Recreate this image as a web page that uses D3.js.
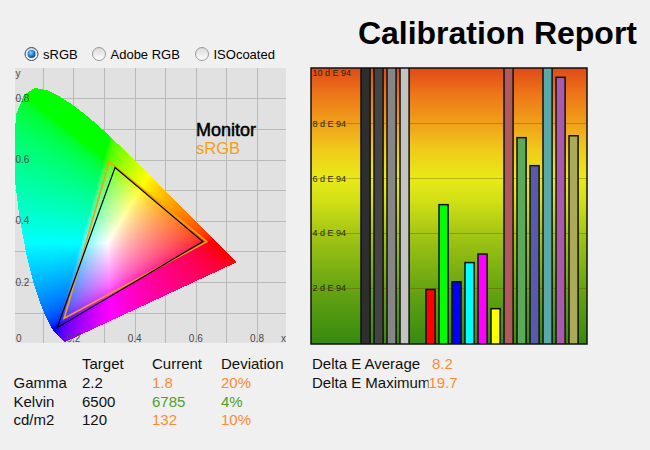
<!DOCTYPE html>
<html><head><meta charset="utf-8">
<script src="https://cdn.jsdelivr.net/npm/d3@7"></script>
<style>
html,body{margin:0;padding:0;background:#f0f0f0;}
svg{display:block;font-family:"Liberation Sans",Arial,sans-serif;}
</style></head><body>
<svg id="c" width="650" height="450"></svg>
<script>
// ---------- data ----------
const title = "Calibration Report";
const gamutOptions = ["sRGB", "Adobe RGB", "ISOcoated"];
const selectedOption = "sRGB";
// CIE 1931 spectral locus (x, y), 380..700 nm
const spectralLocus = [
 [0.1741,0.0050],[0.1740,0.0050],[0.1738,0.0049],[0.1736,0.0049],[0.1733,0.0048],
 [0.1730,0.0048],[0.1726,0.0048],[0.1721,0.0048],[0.1714,0.0051],[0.1703,0.0058],
 [0.1689,0.0069],[0.1669,0.0086],[0.1644,0.0109],[0.1611,0.0138],[0.1566,0.0177],
 [0.1510,0.0227],[0.1440,0.0297],[0.1355,0.0399],[0.1241,0.0578],[0.1096,0.0868],
 [0.0913,0.1327],[0.0687,0.2007],[0.0454,0.2950],[0.0235,0.4127],[0.0082,0.5384],
 [0.0039,0.6548],[0.0139,0.7502],[0.0389,0.8120],[0.0743,0.8338],[0.1142,0.8262],
 [0.1547,0.8059],[0.1929,0.7816],[0.2296,0.7543],[0.2658,0.7243],[0.3016,0.6923],
 [0.3373,0.6589],[0.3731,0.6245],[0.4087,0.5896],[0.4441,0.5547],[0.4788,0.5202],
 [0.5125,0.4866],[0.5448,0.4544],[0.5752,0.4242],[0.6029,0.3965],[0.6270,0.3725],
 [0.6482,0.3514],[0.6658,0.3340],[0.6801,0.3197],[0.6915,0.3083],[0.7006,0.2993],
 [0.7079,0.2920],[0.7140,0.2859],[0.7190,0.2809],[0.7230,0.2770],[0.7260,0.2740],
 [0.7300,0.2700],[0.7320,0.2680],[0.7334,0.2666],[0.7347,0.2653]
];
const targetGamut = [[0.317,0.593],[0.636,0.332],[0.170,0.082]];   // sRGB as drawn
const monitorGamut = [[0.336,0.574],[0.623,0.332],[0.147,0.051]];  // measured
const cieTicks = [0.2, 0.4, 0.6, 0.8];
const cieGrid = [0.1,0.2,0.3,0.4,0.5,0.6,0.7,0.8];
const gamutLabels = ["Monitor", "sRGB"];

const patchNames = ["Black","Dark gray","Gray","Light gray","(gap)",
  "Red","Green","Blue","Cyan","Magenta","Yellow",
  "Dark skin","Foliage","Blue flower","Bluish green","Purple","Yellow green"];
const deltaE = [15.2, 13.1, 11.4, 12.6, null, 1.95, 5.04, 2.23, 2.93, 3.24, 1.25,
  19.7, 7.48, 6.46, 11.4, 9.68, 7.55];
const patchColors = ["#2e2e2e","#444444","#868686","#c4c4c4",null,
  "#ff0000","#00ff00","#0000ff","#00ffff","#ff00ff","#ffff00",
  "#b05a5a","#5aaa5a","#5a5aaa","#5aaaaa","#aa5aaa","#aaaa5a"];
const deltaETicks = [2, 4, 6, 8, 10];

const tableHeaders = ["Target", "Current", "Deviation"];
const metricNames = ["Gamma", "Kelvin", "cd/m2"];
const targetValues = ["2.2", "6500", "120"];
const currentValues = ["1.8", "6785", "132"];
const deviationValues = ["20%", "4%", "10%"];
const metricOk = [false, true, false];
const summaryLabels = ["Delta E Average", "Delta E Maximum"];
const summaryValues = ["8.2", "19.7"];

// ---------- setup ----------
const svg = d3.select("#c");
const defs = svg.append("defs");
const ORANGE = "#ff8a35", GREEN = "#4ea02a";

// title
svg.append("text").attr("x", 637).attr("y", 44).attr("text-anchor", "end")
  .attr("font-size", 32).attr("font-weight", "bold").attr("fill", "#000").text(title);

// ---------- radio buttons ----------
const rg = defs.append("linearGradient").attr("id","radioBg").attr("x1",0).attr("y1",0).attr("x2",0).attr("y2",1);
rg.append("stop").attr("offset",0).attr("stop-color","#d8d8d8");
rg.append("stop").attr("offset",1).attr("stop-color","#ffffff");
const rd = defs.append("radialGradient").attr("id","radioDot").attr("cx","40%").attr("cy","35%").attr("r","70%");
rd.append("stop").attr("offset",0).attr("stop-color","#8fd0ff");
rd.append("stop").attr("offset",0.6).attr("stop-color","#1a78d0");
rd.append("stop").attr("offset",1).attr("stop-color","#0a3f80");
const radioX = d3.scaleOrdinal().domain(gamutOptions).range([31.5, 99, 202]);
const radios = svg.append("g").selectAll("g").data(gamutOptions).join("g")
  .attr("transform", d => `translate(${radioX(d)},54)`);
radios.append("circle").attr("r", 6.5).attr("fill","url(#radioBg)")
  .attr("stroke", d => d === selectedOption ? "#3a4a60" : "#9a9a9a").attr("stroke-width", 1);
radios.filter(d => d === selectedOption).append("circle").attr("r", 4).attr("fill","url(#radioDot)");
radios.append("text").attr("x", 11.5).attr("y", 4.8).attr("font-size", 13).attr("fill","#000").text(d => d);

// ---------- chromaticity diagram ----------
const P = {l:15, t:68, r:286, b:343};
const xs = d3.scaleLinear().domain([0, 0.8]).range([12.2, 257]);
const ys = d3.scaleLinear().domain([0, 0.8]).range([343.3, 98.3]);
const cie = svg.append("g");
defs.append("clipPath").attr("id","cieClip").append("rect")
  .attr("x",P.l).attr("y",P.t).attr("width",P.r-P.l).attr("height",P.b-P.t);
cie.append("rect").attr("x",P.l).attr("y",P.t).attr("width",P.r-P.l).attr("height",P.b-P.t).attr("fill","#e1e1e1");
const grid = cie.append("g").attr("stroke","#b9b9b9").attr("stroke-width",1);
grid.selectAll(".vx").data(cieGrid).join("line")
  .attr("x1", d => Math.round(xs(d))+0.5).attr("x2", d => Math.round(xs(d))+0.5)
  .attr("y1", P.t).attr("y2", P.b);
grid.selectAll(".hy").data(cieGrid).join("line")
  .attr("y1", d => Math.round(ys(d))+0.5).attr("y2", d => Math.round(ys(d))+0.5)
  .attr("x1", P.l).attr("x2", P.r);

// horseshoe raster
(function(){
  const w = P.r - P.l, h = P.b - P.t;
  const cv = document.createElement("canvas"); cv.width = w; cv.height = h;
  const ctx = cv.getContext("2d");
  const img = ctx.createImageData(w, h);
  const gam = v => v <= 0.0031308 ? 12.92*v : 1.055*Math.pow(v, 1/2.4) - 0.055;
  for (let j = 0; j < h; j++) {
    for (let i = 0; i < w; i++) {
      const cx = xs.invert(P.l + i + 0.5), cy = ys.invert(P.t + j + 0.5);
      if (cy <= 0 || !d3.polygonContains(spectralLocus, [cx, cy])) continue;
      const X = cx / cy, Y = 1, Z = (1 - cx - cy) / cy;
      let r = 3.2406*X - 1.5372*Y - 0.4986*Z;
      let g = -0.9689*X + 1.8758*Y + 0.0415*Z;
      let b = 0.0557*X - 0.2040*Y + 1.0570*Z;
      r = Math.max(0, r); g = Math.max(0, g); b = Math.max(0, b);
      const m = Math.max(r, g, b) || 1;
      r /= m; g /= m; b /= m;
      const k = (j*w + i) * 4;
      img.data[k] = Math.round(255*gam(r));
      img.data[k+1] = Math.round(255*gam(g));
      img.data[k+2] = Math.round(255*gam(b));
      img.data[k+3] = 255;
    }
  }
  ctx.putImageData(img, 0, 0);
  cie.append("image").attr("x", P.l).attr("y", P.t).attr("width", w).attr("height", h)
    .attr("href", cv.toDataURL());
})();

const tri = d3.line().x(d => xs(d[0])).y(d => ys(d[1])).curve(d3.curveLinearClosed);
cie.append("path").attr("d", tri(targetGamut)).attr("fill","none")
  .attr("stroke","#f5a010").attr("stroke-width",1.6).attr("clip-path","url(#cieClip)");
cie.append("path").attr("d", tri(monitorGamut)).attr("fill","none")
  .attr("stroke","#000").attr("stroke-width",1.2).attr("clip-path","url(#cieClip)");

// axis labels
const lab = cie.append("g").attr("font-size", 10).attr("fill", "#4a4a4a");
lab.selectAll(".xt").data(cieTicks).join("text").attr("x", d => xs(d)).attr("y", 341.5)
  .attr("text-anchor","middle").text(d => d3.format(".1f")(d));
lab.selectAll(".yt").data(cieTicks).join("text").attr("x", 15.5).attr("y", d => ys(d) + 3.5)
  .text(d => d3.format(".1f")(d));
lab.append("text").attr("x", 16).attr("y", 341.5).text("0");
lab.append("text").attr("x", 281).attr("y", 341.5).text("x");
lab.append("text").attr("x", 15.5).attr("y", 77).text("y");

cie.append("text").attr("x", 196).attr("y", 135.5).attr("font-size", 18)
  .attr("fill","#000").attr("stroke","#000").attr("stroke-width",0.5).text(gamutLabels[0]);
cie.append("text").attr("x", 196).attr("y", 153.5).attr("font-size", 16.5)
  .attr("fill","#f5a010").text(gamutLabels[1]);

// ---------- delta E bar chart ----------
const B = {l:311, t:68, r:587, b:344};
const bx = d3.scaleBand().domain(patchNames).range([361, 361 + 13*16.7]).paddingInner(0.3).paddingOuter(0);
const by = d3.scaleLinear().domain([0, 10]).range([343, 68.5]);
const bg = defs.append("linearGradient").attr("id","deBg").attr("x1",0).attr("y1",1).attr("x2",0).attr("y2",0);
[[0,"#378a10"],[0.2,"#66a412"],[0.4,"#a4c614"],[0.52,"#d2e016"],[0.6,"#e8ea18"],
 [0.7,"#f0cc1a"],[0.8,"#f0a01a"],[0.9,"#ee7818"],[1,"#e04a18"]]
  .forEach(s => bg.append("stop").attr("offset", s[0]).attr("stop-color", s[1]));
defs.append("clipPath").attr("id","deClip").append("rect")
  .attr("x",B.l).attr("y",B.t).attr("width",B.r-B.l).attr("height",B.b-B.t);
const bar = svg.append("g");
bar.append("rect").attr("x",B.l).attr("y",B.t).attr("width",B.r-B.l).attr("height",B.b-B.t).attr("fill","url(#deBg)");
bar.append("g").selectAll("line").data(deltaETicks.filter(d => d < 10)).join("line")
  .attr("x1", B.l).attr("x2", B.r).attr("y1", d => Math.round(by(d))+0.5).attr("y2", d => Math.round(by(d))+0.5)
  .attr("stroke", "rgba(110,70,0,0.35)").attr("stroke-width", 1);
bar.append("g").selectAll("text").data(deltaETicks).join("text")
  .attr("x", 312.5).attr("y", d => Math.max(by(d), 73) + 3.2)
  .attr("font-size", 9).attr("fill", "#2e2808")
  .text(d => `${d} d E 94`);
const bi = patchNames.map((n, i) => ({name: n, v: deltaE[i], c: patchColors[i]})).filter(d => d.v != null);
bar.append("g").attr("clip-path","url(#deClip)").selectAll("rect").data(bi).join("rect")
  .attr("x", d => bx(d.name)).attr("width", bx.bandwidth())
  .attr("y", d => by(d.v)).attr("height", d => by(0) - by(d.v) + 2)
  .attr("fill", d => d.c).attr("stroke", "#111").attr("stroke-width", 1.5);
bar.append("rect").attr("x",B.l).attr("y",B.t).attr("width",B.r-B.l).attr("height",B.b-B.t)
  .attr("fill","none").attr("stroke","#111").attr("stroke-width",1.5);

// ---------- table ----------
const tb = svg.append("g").attr("font-size", 15);
const colX = [82, 152, 221];
const rowY = d3.scaleLinear().domain([0, 1]).range([369.3, 388]);
tb.selectAll(".h").data(tableHeaders).join("text").attr("x", (d,i) => colX[i]).attr("y", rowY(0)).attr("fill","#111").text(d => d);
const rows = tb.selectAll(".r").data(metricNames).join("g").attr("transform", (d,i) => `translate(0,${rowY(i+1)})`);
rows.append("text").attr("x", 13.5).attr("fill","#111").text(d => d);
rows.append("text").attr("x", colX[0]).attr("fill","#111").text((d,i) => targetValues[i]);
rows.append("text").attr("x", colX[1]).attr("fill",(d,i) => metricOk[i] ? GREEN : ORANGE).text((d,i) => currentValues[i]);
rows.append("text").attr("x", colX[2]).attr("fill",(d,i) => metricOk[i] ? GREEN : ORANGE).text((d,i) => deviationValues[i]);

defs.append("clipPath").attr("id","sumClip").append("rect").attr("x",300).attr("y",350).attr("width",128.5).attr("height",60);
const sm = svg.append("g").attr("font-size", 15);
sm.selectAll(".sl").data(summaryLabels).join("text").attr("x", 312).attr("y", (d,i) => rowY(i))
  .attr("fill","#111").attr("clip-path","url(#sumClip)").text(d => d);
sm.selectAll(".sv").data(summaryValues).join("text").attr("x", (d,i) => i === 0 ? 432 : 428.5).attr("y", (d,i) => rowY(i))
  .attr("fill", ORANGE).text(d => d);
</script>
</body></html>
